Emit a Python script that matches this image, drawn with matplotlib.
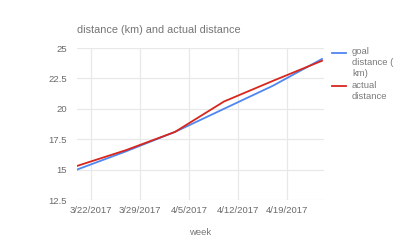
import pandas as pd
import matplotlib
matplotlib.use('Agg')
import matplotlib.pyplot as plt
from matplotlib.lines import Line2D

# weekly values
weeks = ['2017-03-20', '2017-03-27', '2017-04-03', '2017-04-10', '2017-04-17', '2017-04-24']
goal_distance = [15.0, 16.5, 18.1, 20.0, 21.9, 24.1]
actual_distance = [15.3, 16.6, 18.1, 20.6, 22.3, 23.95]
tick_dates = ['2017-03-22', '2017-03-29', '2017-04-05', '2017-04-12', '2017-04-19']
tick_labels = ['3/22/2017', '3/29/2017', '4/5/2017', '4/12/2017', '4/19/2017']
y_ticks = [12.5, 15, 17.5, 20, 22.5, 25]

plt.rcParams['font.family'] = ['Liberation Sans', 'DejaVu Sans']

def main():
    x = pd.to_datetime(weeks)
    blue = '#4f86f0'
    red = '#d8261c'

    fig = plt.figure(figsize=(4, 2.48), dpi=100)
    ax = fig.add_axes([77/400, 1-200/248, (324-77)/400, (200-48)/248])

    ax.plot(x, goal_distance, color=blue, lw=1.3, zorder=3)
    ax.plot(x, actual_distance, color=red, lw=1.3, zorder=4)

    ax.set_xlim(pd.Timestamp('2017-03-20'), pd.Timestamp('2017-03-20') + pd.Timedelta(days=247/7.0))
    ax.set_ylim(12.5, 25)
    ax.set_yticks(y_ticks)
    ax.set_yticklabels(['12.5', '15', '17.5', '20', '22.5', '25'])
    ax.set_xticks(pd.to_datetime(tick_dates))
    ax.set_xticklabels(tick_labels)

    ax.grid(True, color='#e8e8e8', lw=0.9)
    ax.set_axisbelow(True)
    for s in ax.spines.values():
        s.set_visible(False)
    ax.tick_params(length=0, labelsize=6.8, colors='#6a6a6a', pad=7)
    ax.tick_params(axis='x', pad=4)

    ax.set_xlabel('week', fontsize=6.8, color='#777777', labelpad=10)

    fig.text(77/400, 1-30/248, 'distance (km) and actual distance',
             fontsize=7.8, color='#757575', va='center', ha='left')

    # legend on the right
    fig.add_artist(Line2D([332/400, 346/400], [1-53/248, 1-53/248], color=blue, lw=1.3))
    fig.add_artist(Line2D([332/400, 346/400], [1-86/248, 1-86/248], color=red, lw=1.3))
    for txt, yy in [('goal', 52), ('distance (', 62.5), ('km)', 73), ('actual', 86), ('distance', 96.5)]:
        fig.text(352/400, 1-yy/248, txt, fontsize=6.8, color='#7a7a7a', va='center', ha='left')

    fig.savefig('out.png', dpi=100, facecolor='white')

if __name__ == '__main__':
    main()
